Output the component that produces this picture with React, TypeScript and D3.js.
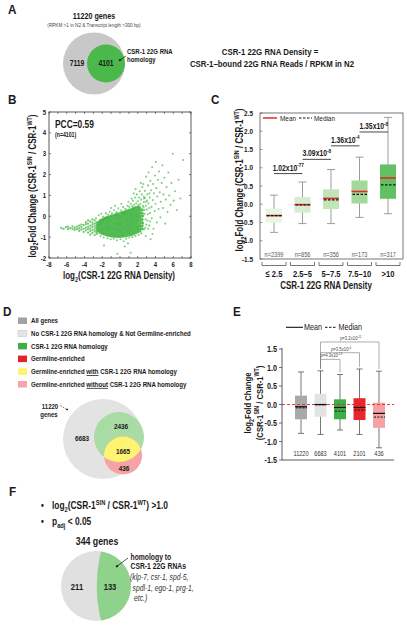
import React from 'react';
import * as d3 from 'd3';

const FONT = '"Liberation Sans",Arial,Helvetica,sans-serif';
const SX = 0.8; // narrow typeface look

// ---------- Panel A ----------
const vennATotalLabel = '11220 genes';
const vennAOnly = 7119;
const vennAHomology = 4101;

// ---------- Panel B (scatter: dense core as columns of x with y values, halo as pairs) ----------
const scatterCore: [number, number[]][] = [
  [-2.5, [-0.7, -0.6, -0.5, -0.4, -0.3]],
  [-2.25, [-0.78, -0.68, -0.58, -0.48, -0.38, -0.28, -0.2]],
  [-2.0, [-0.82, -0.72, -0.62, -0.52, -0.42, -0.32, -0.22, -0.15]],
  [-1.75, [-0.86, -0.76, -0.66, -0.56, -0.46, -0.36, -0.26, -0.16, -0.1]],
  [-1.5, [-0.9, -0.8, -0.7, -0.6, -0.5, -0.4, -0.3, -0.2, -0.1, -0.05]],
  [-1.25, [-0.92, -0.82, -0.72, -0.62, -0.52, -0.42, -0.32, -0.22, -0.12, -0.02]],
  [-1.0, [-0.95, -0.85, -0.75, -0.65, -0.55, -0.45, -0.35, -0.25, -0.15, -0.05, 0.02]],
  [-0.75, [-0.96, -0.86, -0.76, -0.66, -0.56, -0.46, -0.36, -0.26, -0.16, -0.06, 0.04]],
  [-0.5, [-0.97, -0.87, -0.77, -0.67, -0.57, -0.47, -0.37, -0.27, -0.17, -0.07, 0.03, 0.08]],
  [-0.25, [-0.97, -0.87, -0.77, -0.67, -0.57, -0.47, -0.37, -0.27, -0.17, -0.07, 0.03, 0.12]],
  [0.0, [-0.97, -0.87, -0.77, -0.67, -0.57, -0.47, -0.37, -0.27, -0.17, -0.07, 0.03, 0.13]],
  [0.25, [-0.96, -0.86, -0.76, -0.66, -0.56, -0.46, -0.36, -0.26, -0.16, -0.06, 0.04, 0.14, 0.18]],
  [0.5, [-0.95, -0.85, -0.75, -0.65, -0.55, -0.45, -0.35, -0.25, -0.15, -0.05, 0.05, 0.15, 0.22]],
  [0.75, [-0.93, -0.83, -0.73, -0.63, -0.53, -0.43, -0.33, -0.23, -0.13, -0.03, 0.07, 0.17, 0.26]],
  [1.0, [-0.9, -0.8, -0.7, -0.6, -0.5, -0.4, -0.3, -0.2, -0.1, 0.0, 0.1, 0.2, 0.3]],
  [1.25, [-0.88, -0.78, -0.68, -0.58, -0.48, -0.38, -0.28, -0.18, -0.08, 0.02, 0.12, 0.22, 0.32]],
  [1.5, [-0.85, -0.75, -0.65, -0.55, -0.45, -0.35, -0.25, -0.15, -0.05, 0.05, 0.15, 0.25, 0.35, 0.4]],
  [1.75, [-0.8, -0.7, -0.6, -0.5, -0.4, -0.3, -0.2, -0.1, 0.0, 0.1, 0.2, 0.3, 0.42]],
  [2.0, [-0.75, -0.65, -0.55, -0.45, -0.35, -0.25, -0.15, -0.05, 0.05, 0.15, 0.25, 0.35, 0.45]],
  [2.25, [-0.7, -0.58, -0.46, -0.34, -0.22, -0.1, 0.02, 0.14, 0.26, 0.38]],
  [2.5, [-0.6, -0.45, -0.3, -0.15, 0.0, 0.15, 0.3]],
];
const scatterTail: [number, number[]][] = [
  [-6.6, [-0.56]], [-6.35, [-0.6]], [-6.1, [-0.52]], [-5.85, [-0.62, -0.5]], [-5.6, [-0.57]],
  [-5.35, [-0.6, -0.48]], [-5.1, [-0.66, -0.55]], [-4.85, [-0.5, -0.62]], [-4.6, [-0.58, -0.7, -0.45]],
  [-4.35, [-0.52, -0.64, -0.4]], [-4.1, [-0.6, -0.42, -0.75]], [-3.85, [-0.55, -0.68, -0.38, -0.28]],
  [-3.6, [-0.5, -0.62, -0.78, -0.35, -0.2]], [-3.35, [-0.58, -0.45, -0.7, -0.25, -0.88]],
  [-3.1, [-0.52, -0.66, -0.4, -0.8, -0.3, -0.15]], [-2.85, [-0.6, -0.48, -0.72, -0.35, -0.2, -0.9]],
  [-2.65, [-0.55, -0.42, -0.68, -0.3, -0.8]],
];
const scatterHalo: [number, number][] = [
  [-2.7, -0.1], [-2.4, 0.05], [-2.1, 0.12], [-1.9, -0.02], [-1.6, 0.15], [-1.35, 0.08], [-1.15, 0.22],
  [-0.9, 0.14], [-0.65, 0.3], [-0.4, 0.2], [-0.2, 0.38], [0.1, 0.28], [0.35, 0.45], [0.6, 0.36],
  [0.85, 0.5], [0.15, 0.6], [-0.55, 0.5], [-1.0, 0.4],
  [-2.6, -0.85], [-2.2, -0.95], [-1.85, -1.02], [-1.4, -1.05], [-1.05, -1.1], [-0.7, -1.08], [-0.35, -1.15],
  [0.05, -1.1], [0.4, -1.2], [0.7, -1.08], [1.05, -1.02], [1.4, -1.0], [1.75, -0.95], [2.1, -0.9], [2.4, -0.82],
  [-0.3, -1.8], [1.2, -1.75], [0.55, -1.45], [-1.8, -1.4], [0.9, -1.3],
  [1.05, 0.45], [1.2, 0.6], [1.35, 0.5], [1.45, 0.75], [1.6, 0.55], [1.7, 0.9], [1.82, 0.62], [1.9, 1.05],
  [2.0, 0.72], [2.08, 0.55], [2.15, 0.9], [2.22, 1.2], [2.3, 0.6], [2.38, 0.8], [2.45, 1.05], [2.52, 1.4],
  [2.58, 0.5], [2.2, 0.48], [1.55, 1.1], [1.3, 0.85], [0.95, 0.7], [2.35, 1.6], [2.7, 0.85], [1.75, 1.3],
  [2.6, -0.35], [2.64, 0.05], [2.68, 0.68], [2.72, -0.62], [2.76, 0.3], [2.82, 0.88], [2.88, -0.15],
  [2.92, 0.5], [2.98, -0.4], [3.05, 0.75], [3.12, 0.1], [3.18, -0.6], [3.26, 0.4], [3.32, 1.1], [3.4, -0.25],
  [2.62, 1.55], [2.7, 0.95], [2.66, 0.42], [2.8, 1.22], [2.85, -0.55], [2.9, 0.7], [2.78, 0.12], [2.95, 1.9],
  [3.02, 0.32], [3.08, 1.05], [3.1, -0.2], [3.15, 1.48], [3.2, 0.62], [3.22, 2.1], [3.3, -0.45], [3.35, 0.9],
  [3.38, 0.15], [3.42, 1.7], [3.5, 1.25], [3.55, 0.45], [3.58, -0.1], [3.62, 2.35], [3.7, 0.78], [3.72, 1.55],
  [3.78, -0.6], [3.82, 1.1], [3.9, 0.25], [3.95, 1.95], [4.0, 0.6], [4.05, 2.6], [4.1, 1.35], [4.15, -0.3],
  [4.2, 0.95], [4.28, 1.75], [4.35, 0.35], [4.4, 2.15], [4.48, 1.15], [4.55, -0.05], [4.6, 0.7], [4.7, 1.6],
  [4.78, 2.45], [4.85, 0.4], [4.9, 1.05], [5.0, 1.85], [5.1, -0.35], [5.15, 0.8], [5.25, 1.4], [5.35, 0.2],
  [5.45, 2.1], [5.55, 1.0], [5.7, 0.55], [5.8, 1.6], [5.95, 3.0], [6.05, 0.75], [6.2, 1.2], [6.4, 0.3],
  [6.6, 1.75], [6.8, 0.85], [7.1, 2.7], [3.45, -1.1], [2.9, -0.95], [3.65, -0.85],
];
const scatterXTicks = [-8, -6, -4, -2, 0, 2, 4, 6, 8];
const scatterYTicks = [5, 4, 3, 2, 1, 0, -1, -2];

// ---------- Panel C ----------
const cCategories = ['≤ 2.5', '2.5–5', '5–7.5', '7.5–10', '>10'];
const cN = [2399, 856, 356, 173, 317];
const cWhiskerLow = [-0.77, -0.53, -0.53, -0.36, -0.26];
const cQ1 = [-0.5, -0.23, -0.13, 0.02, 0.15];
const cQ3 = [-0.12, 0.2, 0.41, 0.65, 1.09];
const cWhiskerHigh = [0.25, 0.61, 0.95, 1.29, 2.38];
const cMean = [-0.31, -0.01, 0.16, 0.35, 0.72];
const cMedian = [-0.31, -0.02, 0.12, 0.27, 0.53];
const cColors = ['#e7f5e4', '#d4edcf', '#bfe5b8', '#a2d89a', '#62c062'];
const cTicks = [2.5, 2.0, 1.5, 1.0, 0.5, 0.0, -0.5, -1.0, -1.5];
const cPMant = ['1.02x10', '3.09x10', '1.36x10', '1.35x10'];
const cPExp = ['-77', '-8', '-4', '-8'];
const cPLevel = [0.84, 1.23, 1.6, 1.98];

// ---------- Panel D ----------
const dLegendLabels = [
  [{ t: 'All genes' }],
  [{ t: 'No CSR-1 22G RNA homology & Not Germline-enriched' }],
  [{ t: 'CSR-1 22G RNA homology' }],
  [{ t: 'Germline-enriched' }],
  [{ t: 'Germline-enriched ' }, { t: 'with', u: true }, { t: ' CSR-1 22G RNA homology' }],
  [{ t: 'Germline-enriched ' }, { t: 'without', u: true }, { t: ' CSR-1 22G RNA homology' }],
];
const dLegendColors = ['#a3a3a3', '#e4e4e4', '#3fae49', '#e3242b', '#fdf36c', '#f6a5a8'];
const dCounts = [6683, 2436, 1665, 436];

// ---------- Panel E ----------
const eGroups = ['11220', '6683', '4101', '2101', '436'];
const eWhiskerLow = [-0.78, -0.81, -0.69, -0.81, -1.17];
const eQ1 = [-0.4, -0.33, -0.4, -0.42, -0.63];
const eQ3 = [0.24, 0.29, 0.14, 0.17, 0.05];
const eWhiskerHigh = [0.88, 0.91, 0.81, 0.96, 0.9];
const eMean = [-0.06, 0.0, -0.08, -0.08, -0.24];
const eMedian = [-0.09, -0.01, -0.18, -0.15, -0.34];
const eColors = ['#a9a9a9', '#e3e3e3', '#3fae49', '#e8262b', '#f4a2a4'];
const eTicks = [1.5, 1.0, 0.5, 0.0, -0.5, -1.0, -1.5];
const ePMant = ['p=4.3x10', 'p=3.5x10', 'p=3.2x10'];
const ePExp = ['-13', '-4', '-11'];
const ePTarget = [2, 3, 4];
const ePLevel = [1.22, 1.4, 1.69];

// ---------- Panel F ----------
const fTotalLabel = '344 genes';
const fOther = 211;
const fHomology = 133;

type Part = { t: string; s?: 'sub' | 'sup'; i?: boolean; u?: boolean };

function Rich(props: {
  x: number; y: number; size: number; parts: Part[]; anchor?: string; weight?: string;
  fill?: string; rotate?: number; italic?: boolean; sx?: number;
}) {
  const { x, y, size, parts, anchor = 'start', weight = 'bold', fill = '#1a1a1a', rotate, italic, sx = SX } = props;
  let shift = 0;
  const spans = parts.map((p, k) => {
    const target = p.s === 'sub' ? size * 0.28 : p.s === 'sup' ? -size * 0.4 : 0;
    const dy = target - shift;
    shift = target;
    return (
      <tspan key={k} dy={dy} fontSize={p.s ? size * 0.68 : size}
        fontStyle={p.i ? 'italic' : undefined}
        textDecoration={p.u ? 'underline' : undefined}>{p.t}</tspan>
    );
  });
  const tr = `translate(${x},${y})${rotate ? ` rotate(${rotate})` : ''} scale(${sx},1)`;
  return (
    <text x={0} y={0} fontSize={size} fontWeight={weight} textAnchor={anchor} fill={fill}
      fontFamily={FONT} transform={tr} fontStyle={italic ? 'italic' : undefined}>{spans}</text>
  );
}

function T(props: {
  x: number; y: number; size: number; children: React.ReactNode; anchor?: string; weight?: string;
  fill?: string; italic?: boolean; sx?: number;
}) {
  const { x, y, size, children, anchor = 'start', weight = 'bold', fill = '#1a1a1a', italic, sx = SX } = props;
  return (
    <text x={0} y={0} transform={`translate(${x},${y}) scale(${sx},1)`} fontSize={size} fontWeight={weight}
      textAnchor={anchor} fill={fill} fontFamily={FONT} fontStyle={italic ? 'italic' : undefined}>{children}</text>
  );
}

const foldParts: Part[] = [
  { t: 'log' }, { t: '2', s: 'sub' }, { t: 'Fold Change (CSR-1' }, { t: 'SIN', s: 'sup' },
  { t: ' / CSR-1' }, { t: 'WT', s: 'sup' }, { t: ')' },
];

function PanelLetter({ x, y, t }: { x: number; y: number; t: string }) {
  return <T x={x} y={y} size={13} sx={0.9}>{t}</T>;
}

function PanelA() {
  return (
    <g>
      <PanelLetter x={8} y={14} t="A" />
      <T x={94} y={19} size={9} anchor="middle">{vennATotalLabel}</T>
      <T x={94} y={26.5} size={5.8} anchor="middle" weight="normal" fill="#444">(RPKM &gt;1 in N2 &amp; Transcript length &gt;300 bp)</T>
      <circle cx={94} cy={63.5} r={31} fill="#c8c8c8" />
      <circle cx={106} cy={63.5} r={19} fill="#4bb84b" />
      <T x={77} y={66} size={8.5} anchor="middle">{vennAOnly}</T>
      <T x={106} y={66} size={8.5} anchor="middle">{vennAHomology}</T>
      <line x1={126} y1={56} x2={119} y2={60.5} stroke="#111" strokeWidth={0.7} markerEnd="url(#arrow)" />
      <T x={127} y={53.5} size={7.5}>CSR-1 22G RNA</T>
      <T x={127} y={62.3} size={7.5}>homology</T>
      <T x={270} y={55} size={9.8} anchor="middle">CSR-1 22G RNA Density =</T>
      <T x={272} y={66.5} size={9.8} anchor="middle">CSR-1–bound 22G RNA Reads / RPKM in N2</T>
    </g>
  );
}

function PanelB() {
  const x = d3.scaleLinear().domain([-8, 8]).range([49, 191]);
  const y = d3.scaleLinear().domain([-2, 5]).range([258, 112]);
  const core = scatterCore.flatMap(([cx, ys]) => ys.map((v) => [cx, v] as [number, number]));
  const tail = scatterTail.flatMap(([cx, ys]) => ys.map((v) => [cx, v] as [number, number]));
  const minor = d3.range(-8, 9, 1);
  const yMinor = d3.range(-2, 6, 1);
  return (
    <g>
      <PanelLetter x={8} y={104} t="B" />
      <g>
        {scatterHalo.map(([px, py], i) => (
          <circle key={'h' + i} cx={x(px)} cy={y(py)} r={1.05} fill="#4cba4c" opacity={0.7} />
        ))}
        {tail.map(([px, py], i) => (
          <circle key={'t' + i} cx={x(px)} cy={y(py)} r={1.15} fill="#44b644" opacity={0.75} />
        ))}
        {core.map(([px, py], i) => (
          <circle key={'c' + i} cx={x(px)} cy={y(py)} r={1.5} fill="#3db33d" opacity={0.85} />
        ))}
      </g>
      <rect x={x(-8)} y={y(5)} width={x(8) - x(-8)} height={y(-2) - y(5)} fill="none" stroke="#333" strokeWidth={0.8} />
      {minor.map((t) => (
        <g key={t}>
          <line x1={x(t)} x2={x(t)} y1={y(-2)} y2={y(-2) - 2} stroke="#333" strokeWidth={0.6} />
          <line x1={x(t)} x2={x(t)} y1={y(5)} y2={y(5) + 2} stroke="#333" strokeWidth={0.6} />
        </g>
      ))}
      {yMinor.map((t) => (
        <g key={t}>
          <line x1={x(-8)} x2={x(-8) + 2} y1={y(t)} y2={y(t)} stroke="#333" strokeWidth={0.6} />
          <line x1={x(8)} x2={x(8) - 2} y1={y(t)} y2={y(t)} stroke="#333" strokeWidth={0.6} />
        </g>
      ))}
      {scatterXTicks.map((t) => (
        <T key={t} x={x(t)} y={267} size={7.5} anchor="middle">{t}</T>
      ))}
      {scatterYTicks.map((t) => (
        <T key={t} x={46} y={y(t) + 2.5} size={7.5} anchor="end">{t}</T>
      ))}
      <T x={55} y={128} size={10.5}>PCC=0.59</T>
      <T x={55} y={137} size={6.5}>(n=4101)</T>
      <Rich x={119} y={279} size={10} anchor="middle"
        parts={[{ t: 'log' }, { t: '2', s: 'sub' }, { t: '(CSR-1 22G RNA Density)' }]} />
      <Rich x={35.5} y={186} size={10} anchor="middle" rotate={-90} parts={foldParts} />
    </g>
  );
}

function PanelC() {
  const x = d3.scalePoint().domain(cCategories).range([274, 388]);
  const y = d3.scaleLinear().domain([-1.5, 2.5]).range([259, 113]);
  const bw = 16;
  const cap = 8;
  return (
    <g>
      <PanelLetter x={211} y={104} t="C" />
      {cCategories.map((c, i) => {
        const cx = x(c) as number;
        return (
          <g key={c}>
            <line x1={cx} x2={cx} y1={y(cWhiskerLow[i])} y2={y(cWhiskerHigh[i])} stroke="#9c9c9c" strokeWidth={1} />
            <line x1={cx - cap / 2} x2={cx + cap / 2} y1={y(cWhiskerLow[i])} y2={y(cWhiskerLow[i])} stroke="#9c9c9c" strokeWidth={1} />
            <line x1={cx - cap / 2} x2={cx + cap / 2} y1={y(cWhiskerHigh[i])} y2={y(cWhiskerHigh[i])} stroke="#9c9c9c" strokeWidth={1} />
            <rect x={cx - bw / 2} y={y(cQ3[i])} width={bw} height={y(cQ1[i]) - y(cQ3[i])} fill={cColors[i]} />
            <line x1={cx - bw / 2} x2={cx + bw / 2} y1={y(cMean[i])} y2={y(cMean[i])} stroke="#e8262b" strokeWidth={1.6} />
            <line x1={cx - bw / 2 + 1} x2={cx + bw / 2} y1={y(cMedian[i])} y2={y(cMedian[i])} stroke="#111" strokeWidth={1.2} strokeDasharray="2.5,1.5" />
            <T x={cx} y={256.5} size={7} anchor="middle" weight="normal" fill="#555">n={cN[i]}</T>
            <path d={`M${cx - 12},262 V265.5 H${cx + 12} V262`} fill="none" stroke="#555" strokeWidth={0.8} />
            <T x={cx} y={277} size={9.5} anchor="middle">{c}</T>
          </g>
        );
      })}
      {cPMant.map((m, i) => {
        const x1 = x(cCategories[i]) as number;
        const x2 = x(cCategories[i + 1]) as number;
        return (
          <g key={i}>
            <line x1={x1} x2={x2} y1={y(cPLevel[i])} y2={y(cPLevel[i])} stroke="#333" strokeWidth={0.9} />
            <Rich x={(x1 + x2) / 2} y={y(cPLevel[i]) - 3} size={8.5} anchor="middle" parts={[{ t: m }, { t: cPExp[i], s: 'sup' }]} />
          </g>
        );
      })}
      <rect x={260} y={113} width={143} height={146} fill="none" stroke="#555" strokeWidth={0.8} />
      {cTicks.map((t) => (
        <g key={t}>
          <line x1={260} x2={262.5} y1={y(t)} y2={y(t)} stroke="#555" strokeWidth={0.6} />
          <T x={253} y={y(t) + 2.5} size={8} anchor="end">{t.toFixed(1)}</T>
        </g>
      ))}
      <line x1={263} x2={277} y1={118} y2={118} stroke="#e8262b" strokeWidth={1.5} />
      <T x={280} y={120.5} size={8} weight="normal">Mean</T>
      <line x1={299} x2={312} y1={118} y2={118} stroke="#111" strokeWidth={1.1} strokeDasharray="2.5,1.5" />
      <T x={314} y={120.5} size={8} weight="normal">Median</T>
      <T x={326} y={288.5} size={10} anchor="middle">CSR-1 22G RNA Density</T>
      <Rich x={243} y={180} size={10} anchor="middle" rotate={-90} parts={foldParts} />
    </g>
  );
}

function PanelD() {
  return (
    <g>
      <PanelLetter x={3} y={316} t="D" />
      {dLegendLabels.map((parts, i) => (
        <g key={i}>
          <rect x={18} y={317.5 + i * 12.7} width={9} height={6.5} fill={dLegendColors[i]}
            stroke={i === 1 ? '#c8c8c8' : 'none'} strokeWidth={0.5} />
          <Rich x={31} y={323.3 + i * 12.7} size={7.6} parts={parts as Part[]} />
        </g>
      ))}
      <defs>
        <clipPath id="dGreen"><circle cx={119} cy={437} r={25} /></clipPath>
      </defs>
      <circle cx={103} cy={439} r={40} fill="#e3e3e3" />
      <circle cx={119} cy={437} r={25} fill="#a9dca4" />
      <circle cx={123} cy={455.5} r={19} fill="#f5a3a5" />
      <circle cx={123} cy={455.5} r={19} fill="#fff471" clipPath="url(#dGreen)" />
      <T x={82} y={440.5} size={8} anchor="middle">{dCounts[0]}</T>
      <T x={121} y={428.5} size={8} anchor="middle">{dCounts[1]}</T>
      <T x={123} y={453.5} size={8} anchor="middle">{dCounts[2]}</T>
      <T x={124} y={470.5} size={8} anchor="middle">{dCounts[3]}</T>
      <T x={50} y={409} size={7.5} anchor="middle">11220</T>
      <T x={49} y={416.5} size={7.5} anchor="middle">genes</T>
      <line x1={60} y1={405.5} x2={68} y2={410} stroke="#333" strokeWidth={0.6} strokeDasharray="2,1" markerEnd="url(#arrow)" />
    </g>
  );
}

function PanelE() {
  const x = d3.scalePoint().domain(eGroups).range([301, 379]);
  const y = d3.scaleLinear().domain([-1.5, 1.5]).range([460, 349]);
  const bw = 12;
  const cap = 6;
  const x0 = x(eGroups[1]) as number;
  return (
    <g>
      <PanelLetter x={233} y={316} t="E" />
      <line x1={286} x2={303} y1={327.3} y2={327.3} stroke="#111" strokeWidth={1.1} />
      <T x={304} y={330.3} size={9} weight="normal">Mean</T>
      <line x1={325} x2={337} y1={327.3} y2={327.3} stroke="#111" strokeWidth={1} strokeDasharray="2.5,1.5" />
      <T x={338.5} y={330.3} size={9} weight="normal">Median</T>
      {ePMant.map((m, i) => {
        const x2 = x(eGroups[ePTarget[i]]) as number;
        const ly = y(ePLevel[i]);
        const endY = y(eWhiskerHigh[ePTarget[i]]) - 2;
        return (
          <g key={i}>
            <path d={`M${x0},${y(eWhiskerHigh[1]) - 2} V${ly} H${x2} V${endY}`} fill="none" stroke="#777" strokeWidth={0.6} />
            <Rich x={(x0 + x2) / 2 + 1} y={ly - 2} size={5.3} anchor="middle" weight="normal" fill="#444"
              parts={[{ t: m }, { t: ePExp[i], s: 'sup' }]} />
          </g>
        );
      })}
      {eGroups.map((g, i) => {
        const cx = x(g) as number;
        return (
          <g key={g}>
            <line x1={cx} x2={cx} y1={y(eWhiskerLow[i])} y2={y(eWhiskerHigh[i])} stroke="#555" strokeWidth={0.8} />
            <line x1={cx - cap / 2} x2={cx + cap / 2} y1={y(eWhiskerLow[i])} y2={y(eWhiskerLow[i])} stroke="#555" strokeWidth={0.8} />
            <line x1={cx - cap / 2} x2={cx + cap / 2} y1={y(eWhiskerHigh[i])} y2={y(eWhiskerHigh[i])} stroke="#555" strokeWidth={0.8} />
            <rect x={cx - bw / 2} y={y(eQ3[i])} width={bw} height={y(eQ1[i]) - y(eQ3[i])} fill={eColors[i]} />
            <T x={cx} y={455.5} size={7} anchor="middle" weight="normal" fill="#333">{g}</T>
          </g>
        );
      })}
      <line x1={282} x2={394} y1={y(0)} y2={y(0)} stroke="#e8262b" strokeWidth={0.9} strokeDasharray="3,2" />
      {eGroups.map((g, i) => {
        const cx = x(g) as number;
        return (
          <g key={g}>
            <line x1={cx - bw / 2} x2={cx + bw / 2} y1={y(eMean[i])} y2={y(eMean[i])} stroke="#111" strokeWidth={1.2} />
            <line x1={cx - bw / 2 + 1} x2={cx + bw / 2} y1={y(eMedian[i])} y2={y(eMedian[i])} stroke="#111" strokeWidth={1} strokeDasharray="2,1.3" />
          </g>
        );
      })}
      <line x1={282} x2={282} y1={348} y2={460} stroke="#333" strokeWidth={0.8} />
      <line x1={282} x2={394} y1={460} y2={460} stroke="#333" strokeWidth={0.8} />
      {eTicks.map((t) => (
        <g key={t}>
          <line x1={279} x2={282} y1={y(t)} y2={y(t)} stroke="#333" strokeWidth={0.7} />
          <T x={277} y={y(t) + 3} size={9} anchor="end">{t.toFixed(1)}</T>
        </g>
      ))}
      <Rich x={251} y={403} size={9.6} anchor="middle" rotate={-90}
        parts={[{ t: 'log' }, { t: '2', s: 'sub' }, { t: 'Fold Change' }]} />
      <Rich x={262.5} y={403} size={9.6} anchor="middle" rotate={-90}
        parts={[{ t: '(CSR-1' }, { t: 'SIN', s: 'sup' }, { t: ' / CSR-1' }, { t: 'WT', s: 'sup' }, { t: ')' }]} />
    </g>
  );
}

function PanelF() {
  return (
    <g>
      <PanelLetter x={9} y={496} t="F" />
      <T x={41} y={509} size={10}>•</T>
      <Rich x={52} y={509} size={10.5}
        parts={[{ t: 'log' }, { t: '2', s: 'sub' }, { t: '(CSR-1' }, { t: 'SIN', s: 'sup' }, { t: ' / CSR-1' }, { t: 'WT', s: 'sup' }, { t: ') >1.0' }]} />
      <T x={41} y={525} size={10}>•</T>
      <Rich x={52} y={525} size={10.5} parts={[{ t: 'p' }, { t: 'adj', s: 'sub' }, { t: ' < 0.05' }]} />
      <T x={97} y={545} size={11} anchor="middle">{fTotalLabel}</T>
      <defs>
        <clipPath id="fPie"><circle cx={96} cy={586} r={35} /></clipPath>
      </defs>
      <circle cx={96} cy={586} r={35} fill="#e0e0e0" />
      <circle cx={234.7} cy={586} r={138} fill="#8fd28b" clipPath="url(#fPie)" />
      <T x={77} y={589.5} size={9.5} anchor="middle">{fOther}</T>
      <T x={110} y={589.5} size={9.5} anchor="middle">{fHomology}</T>
      <line x1={128} y1={558} x2={116} y2={567} stroke="#111" strokeWidth={0.7} markerEnd="url(#arrow)" />
      <T x={130.5} y={560} size={8.5}>homology to</T>
      <T x={130.5} y={568.5} size={8.5}>CSR-1 22G RNAs</T>
      <T x={130} y={580} size={8.5} weight="normal" italic fill="#333">(klp-7, csr-1, spd-5,</T>
      <T x={132.5} y={590.5} size={8.5} weight="normal" italic fill="#333">spdl-1, ego-1, prg-1,</T>
      <T x={134} y={601} size={8.5} weight="normal" italic fill="#333">etc.)</T>
    </g>
  );
}

export default function App() {
  return (
    <svg width={407} height={625} viewBox="0 0 407 625"
      style={{ position: 'absolute', left: 0, top: 0, background: '#fff' }}>
      <defs>
        <marker id="arrow" viewBox="0 0 10 10" refX="8" refY="5" markerWidth="4" markerHeight="4" orient="auto-start-reverse">
          <path d="M0,0 L10,5 L0,10 z" fill="#111" />
        </marker>
      </defs>
      <rect width={407} height={625} fill="#fff" />
      <PanelA />
      <PanelB />
      <PanelC />
      <PanelD />
      <PanelE />
      <PanelF />
    </svg>
  );
}
